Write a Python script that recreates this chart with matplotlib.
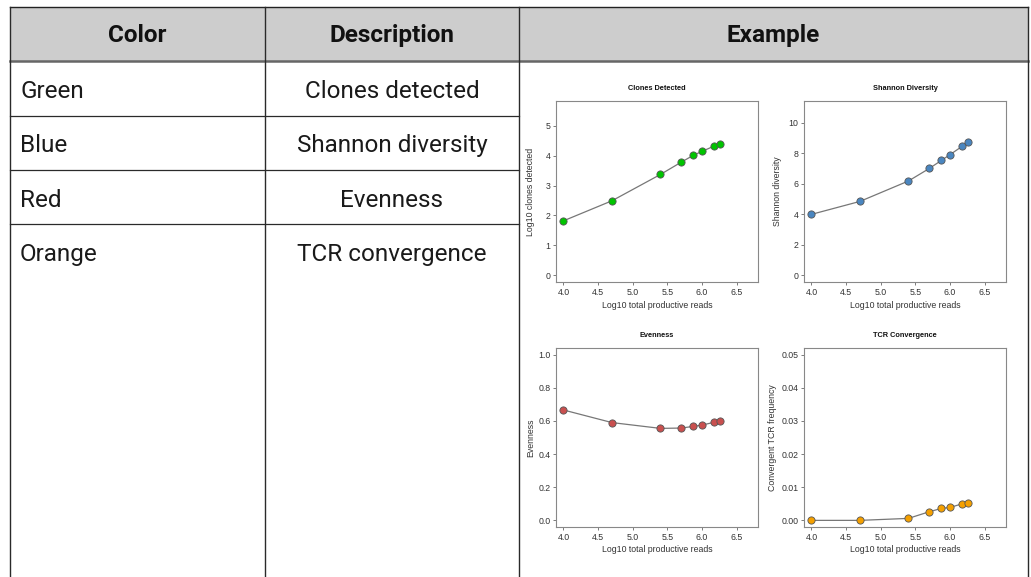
import matplotlib
matplotlib.use("Agg")
import matplotlib.pyplot as plt
from matplotlib.patches import Rectangle

# ---------------- data ----------------
header_labels = ["Color", "Description", "Example"]
color_names = ["Green", "Blue", "Red", "Orange"]
descriptions = ["Clones detected", "Shannon diversity", "Evenness", "TCR convergence"]

log10_reads = [4.0, 4.70, 5.40, 5.70, 5.875, 6.0, 6.176, 6.255]
clones_detected = [1.82, 2.49, 3.37, 3.78, 4.01, 4.14, 4.32, 4.39]
shannon_diversity = [4.00, 4.85, 6.19, 7.01, 7.54, 7.92, 8.47, 8.72]
evenness = [0.666, 0.590, 0.555, 0.557, 0.567, 0.575, 0.592, 0.600]
tcr_convergence = [0.0, 0.0, 0.0006, 0.0026, 0.0036, 0.0039, 0.0050, 0.0052]

plot_titles = ["Clones Detected", "Shannon Diversity", "Evenness", "TCR Convergence"]
y_labels = ["Log10 clones detected", "Shannon diversity", "Evenness", "Convergent TCR frequency"]
x_label = "Log10 total productive reads"
x_ticks = [4.0, 4.5, 5.0, 5.5, 6.0, 6.5]
y_ticks = [[0, 1, 2, 3, 4, 5], [0, 2, 4, 6, 8, 10],
           [0.0, 0.2, 0.4, 0.6, 0.8, 1.0], [0.00, 0.01, 0.02, 0.03, 0.04, 0.05]]
y_tick_fmt = ["{:.0f}", "{:.0f}", "{:.1f}", "{:.2f}"]
y_limits = [(-0.224, 5.824), (-0.44, 11.44), (-0.04, 1.04), (-0.002, 0.052)]
marker_colors = ["#00C400", "#4A86C0", "#C9504F", "#F5A000"]

W, H = 1031, 577
fig = plt.figure(figsize=(W / 100, H / 100), dpi=100)

# ---------------- table (pixel coordinate overlay) ----------------
tab = fig.add_axes([0, 0, 1, 1])
tab.set_xlim(0, W)
tab.set_ylim(H, 0)
tab.axis("off")

x_left, x_c1, x_c2, x_right = 10, 265, 519, 1028
y_top, y_head = 7, 61
row_bottoms = [116, 170, 224]
row_centers = [91.5, 145.5, 200.5, 254.5]

tab.add_patch(Rectangle((x_left, y_top), x_right - x_left, y_head - y_top,
                        facecolor="#cdcdcd", edgecolor="none", zorder=0))
tab.plot([x_left, x_right], [y_top, y_top], color="#222222", lw=1.0)
tab.plot([x_left, x_right], [y_head, y_head], color="#666666", lw=1.8)
for xv in [x_left, x_c1, x_c2, x_right]:
    tab.plot([xv, xv], [y_top, H], color="#2a2a2a", lw=1.0)
for yv in row_bottoms:
    tab.plot([x_left, x_c2], [yv, yv], color="#2a2a2a", lw=0.9)

font_tab = "Roboto"
header_centers = [(x_left + x_c1) / 2, (x_c1 + x_c2) / 2, (x_c2 + x_right) / 2]
for lbl, xc in zip(header_labels, header_centers):
    tab.text(xc, (y_top + y_head) / 2 + 1.5, lbl, ha="center", va="center",
             fontsize=17.5, fontweight="bold", family=font_tab, color="#111111")
for name, desc, yc in zip(color_names, descriptions, row_centers):
    tab.text(x_left + 10, yc, name, ha="left", va="center",
             fontsize=17.5, family=font_tab, color="#1a1a1a")
    tab.text((x_c1 + x_c2) / 2, yc, desc, ha="center", va="center",
             fontsize=17.5, family=font_tab, color="#1a1a1a")

# ---------------- small plots ----------------
boxes = [(556, 758, 101, 282), (804, 1006, 101, 282),
         (556, 758, 348, 527), (804, 1006, 348, 527)]
series = [clones_detected, shannon_diversity, evenness, tcr_convergence]
ylab_x = [-0.124, -0.129, -0.124, -0.155]

plot_font = "Liberation Sans"
for i, (l, r, t, b) in enumerate(boxes):
    ax = fig.add_axes([l / W, 1 - b / H, (r - l) / W, (b - t) / H])
    ax.plot(log10_reads, series[i], color="#777777", lw=0.9, zorder=2)
    ax.plot(log10_reads, series[i], ls="none", marker="o", markersize=5.2,
            markerfacecolor=marker_colors[i], markeredgecolor="#555555",
            markeredgewidth=0.6, zorder=3)
    ax.set_xlim(3.892, 6.808)
    ax.set_ylim(*y_limits[i])
    ax.set_xticks(x_ticks)
    ax.set_xticklabels(["{:.1f}".format(v) for v in x_ticks])
    ax.set_yticks(y_ticks[i])
    ax.set_yticklabels([y_tick_fmt[i].format(v) for v in y_ticks[i]])
    for sp in ax.spines.values():
        sp.set_color("#888888")
        sp.set_linewidth(0.8)
    ax.tick_params(axis="both", direction="out", length=2.5, width=0.6,
                   color="#666666", labelsize=6.3, labelcolor="#333333", pad=1.5)
    for lab in ax.get_xticklabels() + ax.get_yticklabels():
        lab.set_family(plot_font)
    ax.set_title(plot_titles[i], fontsize=5.3, fontweight="bold",
                 family=plot_font, color="#111111", pad=8)
    ax.set_xlabel(x_label, fontsize=6.3, family=plot_font, color="#333333")
    ax.xaxis.label.set_va("center")
    ax.xaxis.set_label_coords(0.5, -0.128)
    ax.set_ylabel(y_labels[i], fontsize=6.3, family=plot_font, color="#333333")
    ax.yaxis.label.set_va("center")
    ax.yaxis.set_label_coords(ylab_x[i], 0.5)

fig.savefig("out.png", dpi=100, facecolor="white")
